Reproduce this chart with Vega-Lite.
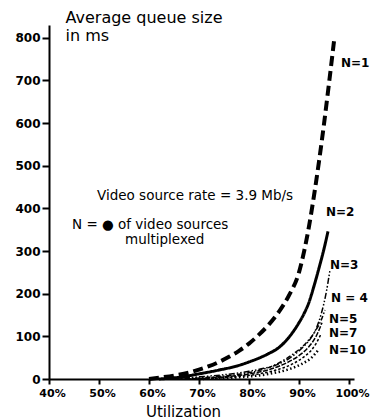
{
  "$schema": "https://vega.github.io/schema/vega-lite/v6.json",
  "width": 305,
  "height": 354,
  "autosize": {"type": "none"},
  "padding": {"left": 49, "top": 25, "right": 28, "bottom": 40},
  "background": "white",
  "config": {"view": {"stroke": null}, "font": "DejaVu Sans"},
  "datasets": {
    "curves": [
      {"n": "N=1", "u": 60, "v": 0}, {"n": "N=1", "u": 62, "v": 3}, {"n": "N=1", "u": 65, "v": 8}, {"n": "N=1", "u": 68, "v": 15}, {"n": "N=1", "u": 70, "v": 22}, {"n": "N=1", "u": 72, "v": 30}, {"n": "N=1", "u": 74, "v": 40}, {"n": "N=1", "u": 76, "v": 52}, {"n": "N=1", "u": 78, "v": 66}, {"n": "N=1", "u": 80, "v": 83}, {"n": "N=1", "u": 82, "v": 104}, {"n": "N=1", "u": 84, "v": 128}, {"n": "N=1", "u": 86, "v": 158}, {"n": "N=1", "u": 88, "v": 196}, {"n": "N=1", "u": 90, "v": 250}, {"n": "N=1", "u": 91, "v": 298}, {"n": "N=1", "u": 92, "v": 358}, {"n": "N=1", "u": 93, "v": 430}, {"n": "N=1", "u": 94, "v": 510}, {"n": "N=1", "u": 95, "v": 598}, {"n": "N=1", "u": 96, "v": 693}, {"n": "N=1", "u": 97, "v": 792},
      {"n": "N=2", "u": 62, "v": 0}, {"n": "N=2", "u": 66, "v": 4}, {"n": "N=2", "u": 70, "v": 12}, {"n": "N=2", "u": 74, "v": 21}, {"n": "N=2", "u": 78, "v": 32}, {"n": "N=2", "u": 80, "v": 40}, {"n": "N=2", "u": 82, "v": 49}, {"n": "N=2", "u": 84, "v": 60}, {"n": "N=2", "u": 86, "v": 74}, {"n": "N=2", "u": 88, "v": 98}, {"n": "N=2", "u": 90, "v": 132}, {"n": "N=2", "u": 91, "v": 153}, {"n": "N=2", "u": 92, "v": 180}, {"n": "N=2", "u": 93, "v": 218}, {"n": "N=2", "u": 94, "v": 260}, {"n": "N=2", "u": 95, "v": 305}, {"n": "N=2", "u": 95.8, "v": 346},
      {"n": "N=3", "u": 64, "v": 0}, {"n": "N=3", "u": 70, "v": 5}, {"n": "N=3", "u": 75, "v": 10}, {"n": "N=3", "u": 80, "v": 18}, {"n": "N=3", "u": 83, "v": 25}, {"n": "N=3", "u": 85.5, "v": 33}, {"n": "N=3", "u": 88, "v": 48}, {"n": "N=3", "u": 89.5, "v": 61}, {"n": "N=3", "u": 91, "v": 77}, {"n": "N=3", "u": 92.5, "v": 98}, {"n": "N=3", "u": 93.5, "v": 120}, {"n": "N=3", "u": 94.5, "v": 155}, {"n": "N=3", "u": 95.4, "v": 200}, {"n": "N=3", "u": 96.2, "v": 256},
      {"n": "N=4", "u": 65, "v": 0}, {"n": "N=4", "u": 72, "v": 4}, {"n": "N=4", "u": 78, "v": 11}, {"n": "N=4", "u": 82, "v": 20}, {"n": "N=4", "u": 85, "v": 32}, {"n": "N=4", "u": 87.5, "v": 48}, {"n": "N=4", "u": 89, "v": 60}, {"n": "N=4", "u": 90.7, "v": 76}, {"n": "N=4", "u": 92, "v": 92}, {"n": "N=4", "u": 93.4, "v": 115}, {"n": "N=4", "u": 94.4, "v": 137}, {"n": "N=4", "u": 95.2, "v": 162},
      {"n": "N=5", "u": 66, "v": 0}, {"n": "N=5", "u": 74, "v": 4}, {"n": "N=5", "u": 80, "v": 12}, {"n": "N=5", "u": 84, "v": 22}, {"n": "N=5", "u": 87, "v": 35}, {"n": "N=5", "u": 90, "v": 55}, {"n": "N=5", "u": 92, "v": 76}, {"n": "N=5", "u": 93.5, "v": 102}, {"n": "N=5", "u": 94.6, "v": 132},
      {"n": "N=7", "u": 68, "v": 0}, {"n": "N=7", "u": 76, "v": 4}, {"n": "N=7", "u": 82, "v": 12}, {"n": "N=7", "u": 86, "v": 23}, {"n": "N=7", "u": 89, "v": 37}, {"n": "N=7", "u": 91, "v": 52}, {"n": "N=7", "u": 92.5, "v": 68}, {"n": "N=7", "u": 93.5, "v": 85}, {"n": "N=7", "u": 94.3, "v": 103},
      {"n": "N=10", "u": 70, "v": 0}, {"n": "N=10", "u": 78, "v": 4}, {"n": "N=10", "u": 84, "v": 12}, {"n": "N=10", "u": 88, "v": 23}, {"n": "N=10", "u": 90.5, "v": 35}, {"n": "N=10", "u": 92.5, "v": 50}, {"n": "N=10", "u": 94, "v": 70}
    ],
    "labels": [
      {"label": "N=1", "u": 98.4, "v": 742},
      {"label": "N=2", "u": 95.4, "v": 392},
      {"label": "N=3", "u": 96.2, "v": 268},
      {"label": "N = 4", "u": 96.4, "v": 190},
      {"label": "N=5", "u": 96, "v": 141},
      {"label": "N=7", "u": 96, "v": 108},
      {"label": "N=10", "u": 96, "v": 68}
    ],
    "notes": [
      {"label": "Video source rate = 3.9 Mb/s", "u": 49.6, "v": 430},
      {"label": "N = ● of video sources", "u": 44.6, "v": 360},
      {"label": "multiplexed", "u": 55.2, "v": 326}
    ]
  },
  "encoding": {
    "x": {
      "field": "u", "type": "quantitative",
      "scale": {"domain": [40, 101], "nice": false, "zero": false},
      "axis": {
        "values": [40, 50, 60, 70, 80, 90, 100],
        "labelExpr": "datum.value + '%'",
        "labelFlush": false,
        "grid": false, "domainColor": "black", "domainWidth": 2,
        "tickColor": "black", "tickWidth": 2, "tickSize": 5,
        "labelColor": "black", "labelFontSize": 11, "labelFontWeight": "bold", "labelPadding": 3, "labelOffset": 3,
        "title": "Utilization", "titleFontSize": 15, "titleFontWeight": "normal", "titleColor": "black",
        "titleX": 134, "titleY": 37, "titleBaseline": "alphabetic", "titleAlign": "center"
      }
    },
    "y": {
      "field": "v", "type": "quantitative",
      "scale": {"domain": [0, 830], "nice": false},
      "axis": {
        "values": [0, 100, 200, 300, 400, 500, 600, 700, 800],
        "grid": false, "domainColor": "black", "domainWidth": 2,
        "tickColor": "black", "tickWidth": 2, "tickSize": 7,
        "labelColor": "black", "labelFontSize": 12, "labelFontWeight": "bold", "labelPadding": 2,
        "title": ["Average queue size", "in ms"], "titleFontSize": 16, "titleFontWeight": "normal", "titleColor": "black",
        "titleAngle": 0, "titleAlign": "left", "titleBaseline": "top", "titleX": 16, "titleY": -16, "titleLineHeight": 18
      }
    }
  },
  "layer": [
    {
      "data": {"name": "curves"},
      "mark": {"type": "line", "interpolate": "monotone", "color": "black", "strokeCap": "butt"},
      "encoding": {
        "strokeDash": {
          "field": "n", "type": "nominal",
          "scale": {"domain": ["N=1", "N=2", "N=3", "N=4", "N=5", "N=7", "N=10"],
                    "range": [[10, 5], [1, 0], [6, 2, 1.5, 2, 1.5, 2], [5, 2, 1.5, 2], [5, 1.5], [2.5, 2], [1.5, 2.5]]},
          "legend": null
        },
        "strokeWidth": {
          "field": "n", "type": "nominal",
          "scale": {"type": "ordinal", "domain": ["N=1", "N=2", "N=3", "N=4", "N=5", "N=7", "N=10"],
                    "range": [4, 3, 1.5, 1.5, 1.5, 1.5, 2.5]},
          "legend": null
        }
      }
    },
    {
      "data": {"name": "labels"},
      "mark": {"type": "text", "align": "left", "baseline": "middle", "fontWeight": "bold", "fontSize": 12, "color": "black"},
      "encoding": {"text": {"field": "label", "type": "nominal"}}
    },
    {
      "data": {"name": "notes"},
      "mark": {"type": "text", "align": "left", "baseline": "middle", "fontSize": 13.5, "color": "black"},
      "encoding": {"text": {"field": "label", "type": "nominal"}}
    }
  ]
}
